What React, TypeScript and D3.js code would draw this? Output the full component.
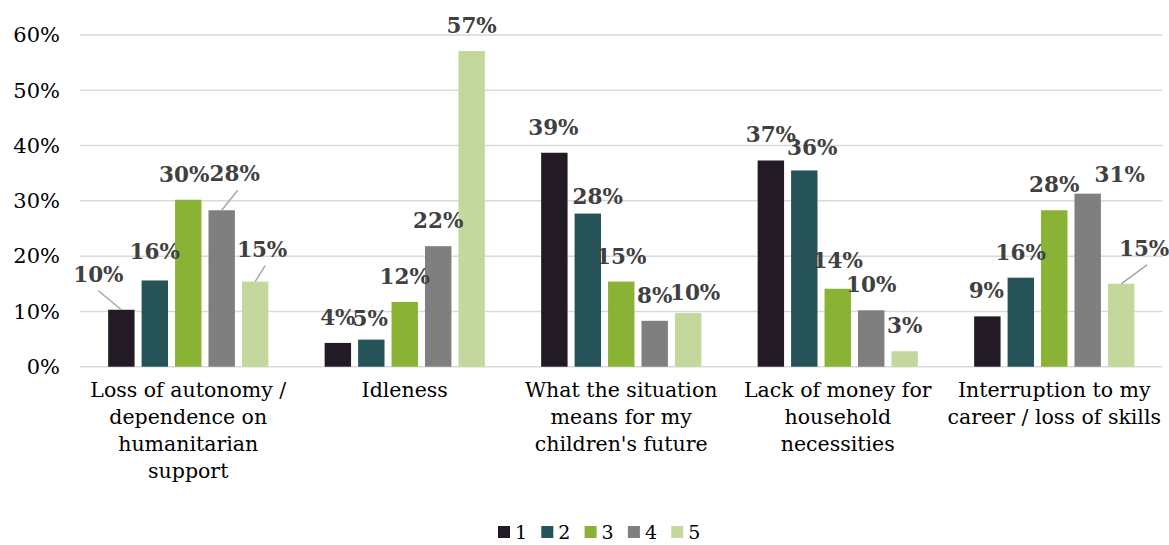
import React from "react";
import * as d3 from "d3";

const categories = [
  ["Loss of autonomy /", "dependence on", "humanitarian", "support"],
  ["Idleness"],
  ["What the situation", "means for my", "children's future"],
  ["Lack of money for", "household", "necessities"],
  ["Interruption to my", "career / loss of skills"],
];
const seriesNames = ["1", "2", "3", "4", "5"];
const seriesColors = ["#221B25", "#255357", "#8AB335", "#7F7F7F", "#C4D89D"];
// values[category][series] in percent
const values = [
  [10.3, 15.6, 30.2, 28.3, 15.4],
  [4.3, 4.9, 11.7, 21.8, 57.1],
  [38.7, 27.7, 15.4, 8.3, 9.7],
  [37.3, 35.5, 14.1, 10.2, 2.8],
  [9.1, 16.1, 28.3, 31.3, 15.0],
];
const labels = [
  ["10%", "16%", "30%", "28%", "15%"],
  ["4%", "5%", "12%", "22%", "57%"],
  ["39%", "28%", "15%", "8%", "10%"],
  ["37%", "36%", "14%", "10%", "3%"],
  ["9%", "16%", "28%", "31%", "15%"],
];
const yTicks = [0, 10, 20, 30, 40, 50, 60];
// label displacement [dx, dy, leader]
const labelOffsets: [number, number, number][][] = [
  [[-23, -10, 1], [0, -3, 0], [-4, 0, 0], [13, -11, 1], [7, -7, 1]],
  [[0, 0, 0], [-1, 4, 0], [0, 0, 0], [0, 0, 0], [0, 0, 0]],
  [[-1, 0, 0], [10, 8, 0], [0, 0, 0], [0, 0, 0], [7, 5, 0]],
  [[0, 0, 0], [8, 3, 0], [0, -3, 0], [0, 0, 0], [0, 0, 0]],
  [[-1, 0, 0], [0, 0, 0], [0, 0, 0], [32, 6, 0], [23, -10, 1]],
];

const W = 1169;
const H = 545;
const plotLeft = 80;
const plotRight = 1162.5;
const yBottom = 366.7;
const yTop = 35;

export default function App() {
  React.useEffect(() => {
    document.body.style.margin = "0";
  }, []);

  const x0 = d3
    .scaleBand<number>()
    .domain(d3.range(categories.length))
    .range([plotLeft, plotRight])
    .paddingInner(0.26)
    .paddingOuter(0.13);
  const x1 = d3
    .scaleBand<number>()
    .domain(d3.range(seriesNames.length))
    .range([0, x0.bandwidth()])
    .paddingInner(0.21);
  const y = d3.scaleLinear().domain([0, 60]).range([yBottom, yTop]);

  const serif = "'DejaVu Serif', Georgia, serif";

  return (
    <svg
      width={W}
      height={H}
      style={{ position: "absolute", left: 0, top: 0, background: "#fff" }}
    >
      {yTicks.map((t) => (
        <g key={t}>
          <line
            x1={plotLeft}
            x2={plotRight}
            y1={y(t)}
            y2={y(t)}
            stroke="#D9D9D9"
            strokeWidth={1.5}
          />
          <text
            x={60}
            y={y(t)}
            dy="0.35em"
            textAnchor="end"
            fontFamily={serif}
            fontSize={21}
            fill="#000"
          >
            {t}%
          </text>
        </g>
      ))}
      {values.map((row, ci) => (
        <g key={ci} transform={`translate(${x0(ci)},0)`}>
          {row.map((v, si) => (
            <rect
              key={si}
              x={x1(si)}
              y={y(v)}
              width={x1.bandwidth()}
              height={y(0) - y(v)}
              fill={seriesColors[si]}
            />
          ))}
        </g>
      ))}
      {values.map((row, ci) =>
        row.map((v, si) => {
          const cx = (x0(ci) as number) + (x1(si) as number) + x1.bandwidth() / 2;
          const top = y(v);
          const [dx, dy, leader] = labelOffsets[ci][si];
          const lx = cx + dx;
          const ly = top - 18 + dy;
          return (
            <g key={`${ci}-${si}`}>
              {leader ? (
                <line
                  x1={lx + (dx > 0 ? 3 : 0)}
                  y1={ly + 9}
                  x2={cx}
                  y2={top}
                  stroke="#A6A6A6"
                  strokeWidth={1.5}
                />
              ) : null}
              <text
                x={lx}
                y={ly}
                textAnchor="middle"
                fontFamily={serif}
                fontWeight="bold"
                fontSize={21.5}
                fill="#404040"
              >
                {labels[ci][si]}
              </text>
            </g>
          );
        })
      )}
      {categories.map((lines, ci) => (
        <text
          key={ci}
          x={(x0(ci) as number) + x0.bandwidth() / 2}
          y={397}
          textAnchor="middle"
          fontFamily={serif}
          fontSize={20.5}
          fill="#000"
        >
          {lines.map((l, li) => (
            <tspan key={li} x={(x0(ci) as number) + x0.bandwidth() / 2} dy={li === 0 ? 0 : 27}>
              {l}
            </tspan>
          ))}
        </text>
      ))}
      {seriesNames.map((s, si) => (
        <g key={s} transform={`translate(${498 + si * 43.3},526)`}>
          <rect width={12} height={12} fill={seriesColors[si]} />
          <text x={17} y={13} fontFamily={serif} fontSize={19} fill="#000">
            {s}
          </text>
        </g>
      ))}
    </svg>
  );
}
